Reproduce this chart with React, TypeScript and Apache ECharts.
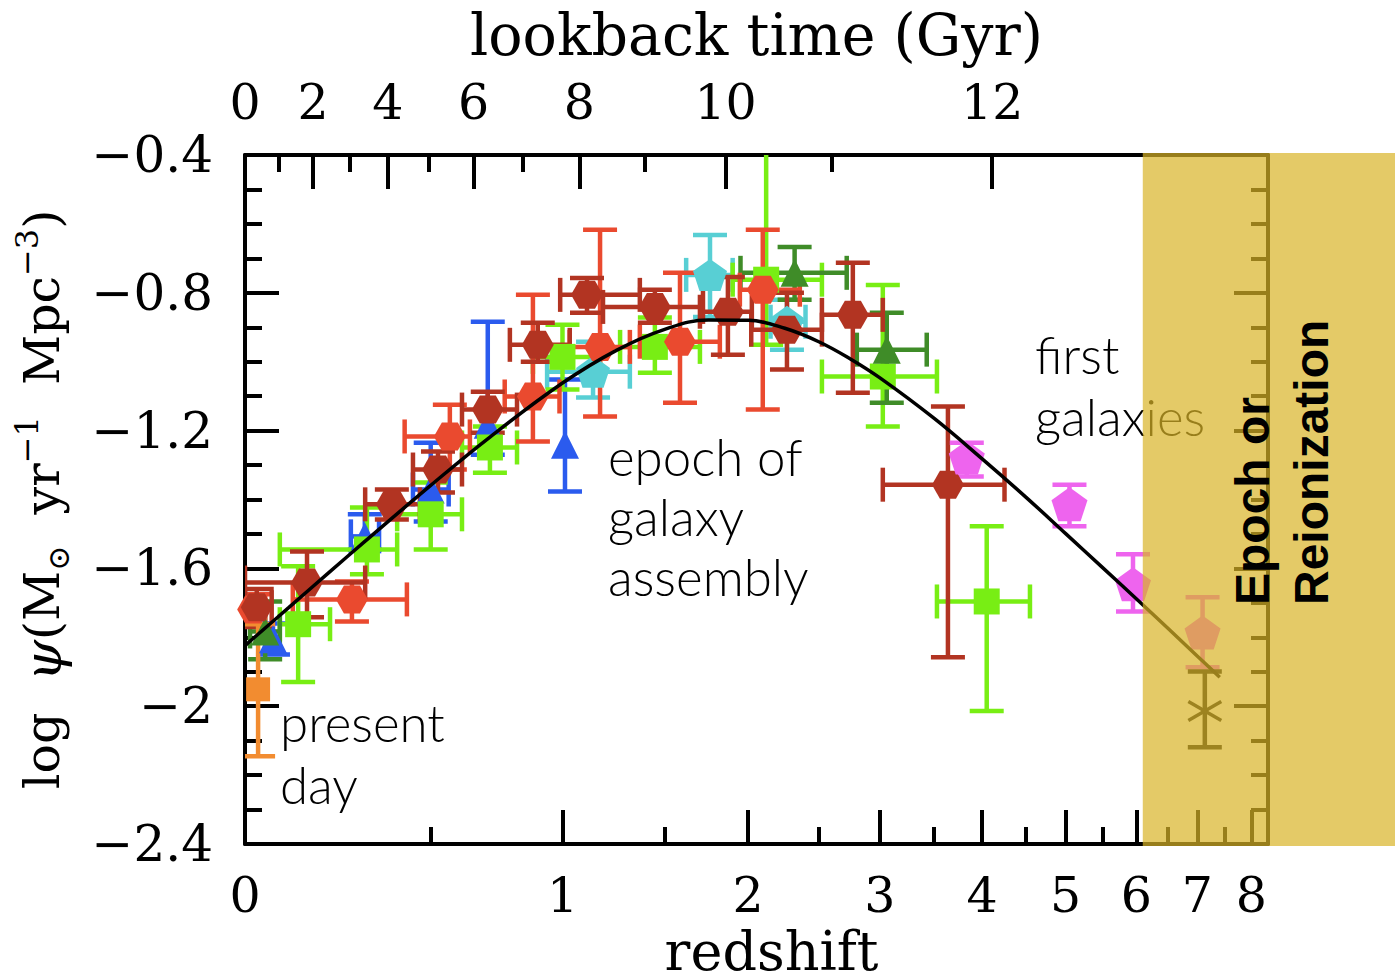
import React, { useEffect, useRef } from "react";
import * as echarts from "echarts";

// Each measurement: [z, log psi, z low, z high, log psi low, log psi high]
type Point = [number, number, number, number, number, number];

const redshiftMajorTicks = [0, 1, 2, 3, 4, 5, 6, 7, 8];
const redshiftMinorTicks = [0.5, 1.5, 2.5, 3.5, 4.5, 5.5, 6.5, 7.5];
const lookbackMajorTicks = [0, 2, 4, 6, 8, 10, 12];
const lookbackMinorTicks = [1, 3, 5, 7, 9, 11];

// Best-fit star formation history curve
const fitRedshift = [0, 0.1, 0.2, 0.3, 0.5, 0.7, 1, 1.25, 1.5, 1.75, 2, 2.25, 2.5, 2.75, 3, 3.5, 4, 4.5, 5, 5.5, 6, 6.5, 7, 7.4];
const fitLogPsi = [-1.824, -1.714, -1.613, -1.521, -1.359, -1.223, -1.062, -0.967, -0.906, -0.879, -0.88, -0.903, -0.942, -0.992, -1.047, -1.164, -1.282, -1.393, -1.499, -1.597, -1.688, -1.774, -1.855, -1.916];

const redPoints: Point[] = [
  [0.018, -1.719, 0.0, 0.045, -1.762, -1.675],
  [0.263, -1.69, 0.11, 0.424, -1.754, -1.638],
  [0.564, -1.217, 0.417, 0.634, -1.313, -1.125],
  [0.875, -1.101, 0.763, 0.987, -1.232, -0.806],
  [1.171, -0.957, 1.032, 1.317, -1.159, -0.617],
  [1.585, -0.942, 1.368, 1.82, -1.119, -0.742],
  [2.097, -0.791, 1.946, 2.358, -1.139, -0.617],
];

const darkRedPoints: Point[] = [
  [0.026, -1.713, 0.0, 0.06, -1.77, -1.66],
  [0.145, -1.641, 0.0, 0.3, -1.742, -1.551],
  [0.378, -1.414, 0.3, 0.465, -1.458, -1.371],
  [0.524, -1.313, 0.443, 0.606, -1.38, -1.261],
  [0.699, -1.139, 0.606, 0.811, -1.206, -1.087],
  [0.895, -0.951, 0.783, 1.032, -1.0, -0.887],
  [1.11, -0.806, 0.99, 1.368, -0.858, -0.757],
  [1.447, -0.841, 1.185, 1.718, -0.887, -0.791],
  [1.87, -0.855, 1.7, 2.024, -0.98, -0.754],
  [2.265, -0.907, 2.02, 2.524, -1.023, -0.8],
  [2.77, -0.864, 2.524, 3.025, -1.09, -0.713],
  [3.64, -1.357, 3.025, 4.25, -1.858, -1.13],
];

const limePoints: Point[] = [
  [0.123, -1.762, 0.079, 0.204, -1.93, -1.594],
  [0.305, -1.545, 0.079, 0.394, -1.617, -1.423],
  [0.5, -1.443, 0.394, 0.606, -1.545, -1.351],
  [0.707, -1.249, 0.606, 0.811, -1.322, -1.188],
  [1.0, -0.986, 0.875, 1.171, -1.081, -0.893],
  [1.447, -0.957, 1.268, 1.7, -1.032, -0.872],
  [2.12, -0.762, 1.9, 2.524, -0.951, -0.3],
  [3.025, -1.043, 2.524, 3.53, -1.188, -0.777],
  [4.05, -1.696, 3.53, 4.55, -2.014, -1.478],
];

const darkGreenPoints: Point[] = [
  [0.045, -1.783, 0.011, 0.079, -1.864, -1.696],
  [2.32, -0.742, 1.95, 2.72, -0.82, -0.667],
  [3.06, -0.965, 2.803, 3.43, -1.119, -0.858],
];

const bluePoints: Point[] = [
  [0.063, -1.806, 0.063, 0.063, -1.85, -1.76],
  [0.299, -1.507, 0.26, 0.34, -1.545, -1.443],
  [0.5, -1.371, 0.443, 0.56, -1.464, -1.235],
  [0.699, -1.183, 0.699, 0.699, -1.27, -0.884],
  [1.011, -1.241, 1.011, 1.011, -1.377, -1.052],
];

const cyanPoints: Point[] = [
  [1.138, -1.029, 0.934, 1.317, -1.104, -0.942],
  [1.76, -0.748, 1.62, 1.9, -0.87, -0.632],
  [2.265, -0.884, 2.15, 2.4, -0.965, -0.82],
];

const magentaPoints: Point[] = [
  [3.835, -1.278, 3.835, 3.835, -1.333, -1.235],
  [5.05, -1.414, 5.05, 5.05, -1.478, -1.357],
  [5.95, -1.646, 5.95, 5.95, -1.725, -1.559],
  [7.09, -1.786, 7.09, 7.09, -1.887, -1.684],
];

const orangePoints: Point[] = [[0.029, -1.951, 0.029, 0.029, -2.145, -1.762]];

const starPoints: Point[] = [[7.13, -2.014, 7.13, 7.13, -2.119, -1.899]];

const reionizationStartZ = 6.1;

// Flat LCDM (H0 = 70, Om = 0.3) for the lookback-time axis
const H0 = 70;
const OMEGA_M = 0.3;
const OMEGA_L = 0.7;
const HUBBLE_TIME = 977.8 / H0;
const AGE_K = (2 / (3 * Math.sqrt(OMEGA_L))) * HUBBLE_TIME;
const AGE_A = Math.sqrt(OMEGA_L / OMEGA_M);
const ageAt = (z: number) => AGE_K * Math.asinh(AGE_A * Math.pow(1 + z, -1.5));
const AGE_NOW = ageAt(0);
const logOnePlusZAtLookback = (t: number) => {
  const age = AGE_NOW - t;
  const x = Math.sinh(age / AGE_K) / AGE_A;
  return Math.log10(Math.pow(x, -2 / 3));
};
const lookbackAtLog = (v: number) => AGE_NOW - ageAt(Math.pow(10, v) - 1);

const lz = (z: number) => Math.log10(1 + z);
const X_MAX = 0.97;

const SERIF = '"DejaVu Serif", "Liberation Serif", serif';
const LIGHT_SANS = 'Lato, "Open Sans", "Liberation Sans", sans-serif';
const BOLD_SANS = '"Liberation Sans", Arial, sans-serif';

const COLORS = {
  red: "#ea4a2f",
  darkRed: "#b23422",
  lime: "#78ee14",
  darkGreen: "#3f8c28",
  blue: "#2b5bee",
  cyan: "#58cfd4",
  magenta: "#ee64ee",
  orange: "#f28c30",
  black: "#111111",
};

const HEXAGON = "path://M0,43.3L25,0L75,0L100,43.3L75,86.6L25,86.6Z";
const PENTAGON = "path://M50,0L100,36.3L80.9,95.1L19.1,95.1L0,36.3Z";

const toRows = (pts: Point[]) =>
  pts.map((p) => [lz(p[0]), p[1], lz(p[2]), lz(p[3]), p[4], p[5]]);

function errorBars(pts: Point[], color: string, withStar = false) {
  return {
    type: "custom",
    clip: true,
    data: toRows(pts),
    encode: { x: 0, y: 1 },
    renderItem: (_params: any, api: any) => {
      const x = api.value(0);
      const y = api.value(1);
      const c = api.coord([x, y]);
      const xl = api.coord([api.value(2), y]);
      const xh = api.coord([api.value(3), y]);
      const yl = api.coord([x, api.value(4)]);
      const yh = api.coord([x, api.value(5)]);
      const style = { stroke: color, lineWidth: 4.5, lineCap: "butt" };
      const cap = 17;
      const line = (x1: number, y1: number, x2: number, y2: number) => ({
        type: "line",
        shape: { x1, y1, x2, y2 },
        style,
      });
      const children: any[] = [
        line(c[0], yl[1], c[0], yh[1]),
        line(c[0] - cap, yl[1], c[0] + cap, yl[1]),
        line(c[0] - cap, yh[1], c[0] + cap, yh[1]),
      ];
      if (xh[0] - xl[0] > 2) {
        children.push(line(xl[0], c[1], xh[0], c[1]));
        children.push(line(xl[0], c[1] - cap, xl[0], c[1] + cap));
        children.push(line(xh[0], c[1] - cap, xh[0], c[1] + cap));
      }
      if (withStar) {
        const r = 19;
        for (let k = 0; k < 3; k++) {
          const a = Math.PI / 2 + (k * Math.PI) / 3;
          children.push({
            type: "line",
            shape: {
              x1: c[0] - r * Math.cos(a),
              y1: c[1] - r * Math.sin(a),
              x2: c[0] + r * Math.cos(a),
              y2: c[1] + r * Math.sin(a),
            },
            style: { stroke: color, lineWidth: 3.5 },
          });
        }
      }
      return { type: "group", children };
    },
  };
}

function markers(pts: Point[], color: string, symbol: string, size: number | number[]) {
  return {
    type: "scatter",
    clip: true,
    symbol,
    symbolSize: size,
    symbolKeepAspect: false,
    itemStyle: { color, opacity: 1 },
    data: pts.map((p) => [lz(p[0]), p[1]]),
  };
}

const tickStyle = { color: "#000", width: 4 };

export default function App() {
  const ref = useRef<HTMLDivElement>(null);

  useEffect(() => {
    if (!ref.current) return;
    const chart = echarts.init(ref.current, undefined, { renderer: "svg" });

    const baseX = {
      type: "value",
      min: 0,
      max: X_MAX,
      splitLine: { show: false },
    };
    const axisLine = { show: true, onZero: false, lineStyle: tickStyle };

    const option: any = {
      animation: false,
      backgroundColor: "#ffffff",
      grid: {
        left: 245,
        right: 127,
        top: 155,
        bottom: 134,
        containLabel: false,
        outerBoundsMode: "none",
      },
      xAxis: [
        {
          ...baseX,
          position: "bottom",
          axisLine,
          axisTick: {
            show: true,
            inside: true,
            length: 34,
            lineStyle: tickStyle,
            customValues: redshiftMajorTicks.map(lz),
          },
          axisLabel: {
            show: true,
            customValues: redshiftMajorTicks.map(lz),
            formatter: (v: number) => String(Math.round(Math.pow(10, v) - 1)),
            fontFamily: SERIF,
            fontSize: 49,
            color: "#000",
            margin: 27,
          },
          name: "redshift",
          nameLocation: "middle",
          nameGap: 73,
          nameTextStyle: {
            fontFamily: SERIF,
            fontSize: 54,
            color: "#000",
            padding: [0, 0, 0, 30],
          },
        },
        {
          ...baseX,
          position: "bottom",
          axisLine: { show: false, onZero: false },
          axisTick: {
            show: true,
            inside: true,
            length: 17,
            lineStyle: tickStyle,
            customValues: redshiftMinorTicks.map(lz),
          },
          axisLabel: { show: false },
        },
        {
          ...baseX,
          position: "top",
          axisLine,
          axisTick: {
            show: true,
            inside: true,
            length: 34,
            lineStyle: tickStyle,
            customValues: lookbackMajorTicks.map(logOnePlusZAtLookback),
          },
          axisLabel: {
            show: true,
            customValues: lookbackMajorTicks.map(logOnePlusZAtLookback),
            formatter: (v: number) => String(Math.round(lookbackAtLog(v))),
            fontFamily: SERIF,
            fontSize: 49,
            color: "#000",
            margin: 28,
          },
          name: "lookback time (Gyr)",
          nameLocation: "middle",
          nameGap: 92,
          nameTextStyle: { fontFamily: SERIF, fontSize: 57, color: "#000" },
        },
        {
          ...baseX,
          position: "top",
          axisLine: { show: false, onZero: false },
          axisTick: {
            show: true,
            inside: true,
            length: 17,
            lineStyle: tickStyle,
            customValues: lookbackMinorTicks.map(logOnePlusZAtLookback),
          },
          axisLabel: { show: false },
        },
      ],
      yAxis: [
        {
          type: "value",
          position: "left",
          min: -2.4,
          max: -0.4,
          interval: 0.4,
          splitLine: { show: false },
          axisLine,
          axisTick: { show: true, inside: true, length: 34, lineStyle: tickStyle },
          minorTick: { show: true, splitNumber: 4, length: 17, lineStyle: tickStyle },
          axisLabel: {
            fontFamily: SERIF,
            fontSize: 50,
            color: "#000",
            margin: 32,
            formatter: (v: number) => String(Math.round(v * 10) / 10).replace("-", "\u2212"),
          },
          name: "{a|log  }{p|\u03c8}{a|(M}{s|\u2299}{a|  yr}{u|\u22121}{a|  Mpc}{u|\u22123}{a|)}",
          nameLocation: "middle",
          nameRotate: 90,
          nameGap: 172,
          nameTextStyle: {
            fontFamily: SERIF,
            fontSize: 49,
            color: "#000",
            rich: {
              a: { fontFamily: SERIF, fontSize: 49, lineHeight: 62, color: "#000" },
              p: { fontFamily: SERIF, fontSize: 53, fontStyle: "italic", lineHeight: 62, color: "#000" },
              s: { fontFamily: SERIF, fontSize: 30, verticalAlign: "bottom", color: "#000" },
              u: { fontFamily: SERIF, fontSize: 32, verticalAlign: "top", color: "#000" },
            },
          },
        },
        {
          type: "value",
          position: "right",
          min: -2.4,
          max: -0.4,
          interval: 0.4,
          splitLine: { show: false },
          axisLine,
          axisTick: { show: true, inside: true, length: 34, lineStyle: tickStyle },
          minorTick: { show: true, splitNumber: 4, length: 17, lineStyle: tickStyle },
          axisLabel: { show: false },
        },
      ],
      series: [
        errorBars(bluePoints, COLORS.blue),
        markers(bluePoints, COLORS.blue, "triangle", [28, 28]),
        errorBars(cyanPoints, COLORS.cyan),
        markers(cyanPoints, COLORS.cyan, PENTAGON, [34, 32]),
        errorBars(limePoints, COLORS.lime),
        markers(limePoints, COLORS.lime, "rect", [26, 26]),
        errorBars(darkGreenPoints, COLORS.darkGreen),
        markers(darkGreenPoints, COLORS.darkGreen, "triangle", [28, 28]),
        errorBars(redPoints, COLORS.red),
        markers(redPoints, COLORS.red, HEXAGON, [32, 28]),
        errorBars(darkRedPoints, COLORS.darkRed),
        markers(darkRedPoints, COLORS.darkRed, HEXAGON, [32, 28]),
        errorBars(magentaPoints, COLORS.magenta),
        markers(magentaPoints, COLORS.magenta, PENTAGON, [36, 34]),
        errorBars(orangePoints, COLORS.orange),
        markers(orangePoints, COLORS.orange, "rect", [24, 24]),
        errorBars(starPoints, COLORS.black, true),
        {
          type: "line",
          data: fitRedshift.map((z, i) => [lz(z), fitLogPsi[i]]),
          showSymbol: false,
          smooth: 0.4,
          clip: true,
          lineStyle: { color: "#000", width: 3.5 },
          z: 5,
        },
      ],
    };

    chart.setOption(option);

    const bandLeft = chart.convertToPixel({ xAxisIndex: 0 }, lz(reionizationStartZ)) as number;
    const plotTop = chart.convertToPixel({ yAxisIndex: 0 }, -0.4) as number;
    const plotBottom = chart.convertToPixel({ yAxisIndex: 0 }, -2.4) as number;
    const width = chart.getWidth();

    const note = (text: string, x: number, y: number) => ({
      type: "text",
      z: 50,
      x,
      y,
      style: {
        text,
        x: 0,
        y: 0,
        fill: "#000",
        fontFamily: LIGHT_SANS,
        fontWeight: 300,
        fontSize: 51,
        textAlign: "left",
        align: "left",
        textVerticalAlign: "middle",
        verticalAlign: "middle",
      },
    });

    const vertical = (text: string, x: number, y: number) => ({
      type: "text",
      z: 120,
      x,
      y,
      rotation: Math.PI / 2,
      style: {
        text,
        x: 0,
        y: 0,
        fill: "#000",
        fontFamily: BOLD_SANS,
        fontWeight: "bold",
        fontSize: 48,
        textAlign: "left",
        align: "left",
        textVerticalAlign: "middle",
        verticalAlign: "middle",
      },
    });

    chart.setOption({
      graphic: [
        note("present", 280, 722),
        note("day", 280, 784),
        note("epoch of", 608, 456),
        note("galaxy", 608, 516),
        note("assembly", 608, 576),
        note("first", 1035, 354),
        note("galaxies", 1035, 416),
        {
          type: "rect",
          z: 100,
          shape: {
            x: bandLeft,
            y: plotTop - 2,
            width: width - bandLeft,
            height: plotBottom - plotTop + 4,
          },
          style: { fill: "rgba(216, 180, 38, 0.7)" },
        },
        vertical("Epoch or", 1252, 605),
        vertical("Reionization", 1311, 605),
      ],
    });

    return () => chart.dispose();
  }, []);

  return (
    <div
      ref={ref}
      style={{ position: "absolute", left: 0, top: 0, width: 1395, height: 978, background: "#fff" }}
    />
  );
}
